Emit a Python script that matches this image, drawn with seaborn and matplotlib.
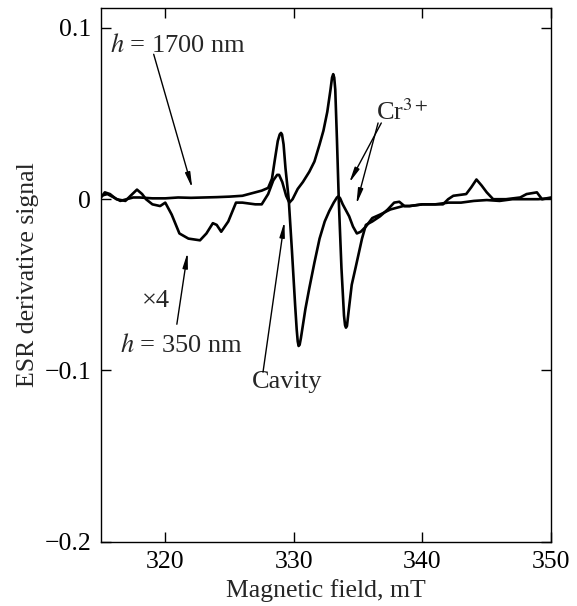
import matplotlib
matplotlib.use("Agg")
import matplotlib.pyplot as plt
import seaborn as sns
import pandas as pd

# h = 1700 nm curve
x_1700 = [315, 315.5, 316, 316.5, 317, 317.5, 318, 319, 320, 321, 322, 323, 324, 325, 326,
          326.5, 327, 327.5, 328, 328.3, 328.5, 328.75, 328.9, 329.0, 329.08, 329.2, 329.35,
          329.6, 329.85, 330.1, 330.22, 330.3, 330.37, 330.45, 330.55, 330.9, 331.2, 331.6,
          332.0, 332.4, 332.75, 333.1, 333.35, 333.47, 333.6, 333.8, 334.3, 334.6, 334.9, 335.2,
          335.6, 336.1, 336.7, 337.5, 338.5, 339.0, 340, 341, 342, 343, 344, 345, 346, 347, 348,
          349, 350]
y_1700 = [0.002, 0.003, 0.001, -0.001, 0.0, 0.001, 0.001, 0.0005, 0.0005, 0.001, 0.0008, 0.001,
          0.0012, 0.0015, 0.002, 0.003, 0.004, 0.005, 0.0066, 0.012, 0.022, 0.034, 0.0378,
          0.0387, 0.0378, 0.032, 0.018, 0.0, -0.03, -0.062, -0.076, -0.083, -0.0857, -0.085,
          -0.081, -0.064, -0.052, -0.037, -0.023, -0.013, -0.007, -0.002, 0.001, 0.0017, 0.0005,
          -0.003, -0.010, -0.016, -0.020, -0.019, -0.016, -0.011, -0.009, -0.006, -0.004, -0.004,
          -0.003, -0.003, -0.002, -0.002, -0.001, -0.0005, -0.001, 0.0, 0.0, 0.0, 0.0005]

# h = 350 nm curve (x4)
x_350 = [315, 315.3, 315.7, 316.2, 316.9, 317.3, 317.8, 318.2, 318.5, 319.0, 319.6, 320.0, 320.5,
         321.1, 321.8, 322.7, 323.2, 323.7, 324.0, 324.35, 324.9, 325.5, 326.0, 327.0, 327.5,
         328.0, 328.4, 328.7, 328.85, 329.1, 329.4, 329.65, 329.9, 330.3, 330.7, 331.2, 331.6,
         332.0, 332.3, 332.6, 332.85, 332.97, 333.06, 333.14, 333.22, 333.35, 333.5, 333.7,
         333.9, 333.98, 334.05, 334.13, 334.25, 334.5, 334.8, 335.3, 335.6, 336.1, 336.7, 337.3,
         337.8, 338.2, 338.6, 339.0, 340, 341, 341.6, 342.0, 342.4, 343.4, 343.8, 344.2, 344.6,
         345.0, 345.5, 346.5, 347.6, 348.1, 348.9, 349.3, 350]
y_350 = [0.001, 0.004, 0.003, 0.0, -0.001, 0.002, 0.0056, 0.003, 0.0, -0.003, -0.004, -0.002,
         -0.009, -0.020, -0.023, -0.024, -0.020, -0.014, -0.015, -0.019, -0.013, -0.002, -0.002,
         -0.003, -0.003, 0.003, 0.011, 0.0142, 0.0142, 0.010, 0.002, -0.002, 0.0, 0.006, 0.010,
         0.016, 0.022, 0.032, 0.040, 0.051, 0.064, 0.071, 0.073, 0.071, 0.064, 0.035, -0.002,
         -0.040, -0.068, -0.0735, -0.075, -0.074, -0.066, -0.050, -0.040, -0.023, -0.015, -0.013,
         -0.010, -0.006, -0.002, -0.0015, -0.004, -0.004, -0.003, -0.003, -0.003, 0.0, 0.002,
         0.003, 0.007, 0.0115, 0.008, 0.004, 0.0, 0.0, 0.001, 0.003, 0.004, 0.0, 0.001]

x_ticks = [320, 330, 340, 350]
y_ticks = [-0.2, -0.1, 0.0, 0.1]
y_tick_labels = ["\u22120.2", "\u22120.1", "0", "0.1"]

sns.set_style("ticks")
plt.rcParams["font.family"] = ["Liberation Serif", "DejaVu Serif"]
plt.rcParams["mathtext.fontset"] = "stix"

fig = plt.figure(figsize=(5.77, 6.06), dpi=100)
ax = fig.add_axes([0.175, 0.106, 0.780, 0.881])

df_a = pd.DataFrame({"x": x_1700, "y": y_1700})
df_b = pd.DataFrame({"x": x_350, "y": y_350})
sns.lineplot(data=df_a, x="x", y="y", ax=ax, color="black", lw=1.9, sort=False,
             solid_joinstyle="round")
sns.lineplot(data=df_b, x="x", y="y", ax=ax, color="black", lw=1.9, sort=False,
             solid_joinstyle="round")

ax.set_xlim(315, 350)
ax.set_ylim(-0.2, 0.1117)
ax.set_xticks(x_ticks)
ax.set_yticks(y_ticks)
ax.set_yticklabels(y_tick_labels)
ax.tick_params(direction="in", length=7, width=1, top=True, right=True,
               labelsize=18.5, pad=7, colors="black")
for s in ax.spines.values():
    s.set_linewidth(1.0)
    s.set_color("black")
ax.set_xlabel("Magnetic field, mT", fontsize=18.5, labelpad=4)
ax.set_ylabel("ESR derivative signal", fontsize=18.5, labelpad=4)

ap = dict(arrowstyle="-|>,head_width=0.15,head_length=0.9", lw=1.0, color="black",
          shrinkA=0, shrinkB=0)
fs = 19
ax.text(315.7, 0.090, r"$h$ = 1700 nm", fontsize=fs, ha="left", va="center")
ax.annotate("", xy=(322.1, 0.0064), xytext=(319.1, 0.0846), arrowprops=ap)
ax.text(338.4, 0.051, r"Cr$^{3+}$", fontsize=fs, ha="center", va="center")
ax.annotate("", xy=(334.3, 0.0095), xytext=(336.8, 0.0445), arrowprops=ap)
ax.annotate("", xy=(334.86, -0.003), xytext=(336.55, 0.0445), arrowprops=ap)
ax.text(319.3, -0.0595, "\u00d74", fontsize=fs, ha="center", va="center")
ax.text(321.25, -0.0857, r"$h$ = 350 nm", fontsize=fs, ha="center", va="center")
ax.annotate("", xy=(321.74, -0.031), xytext=(320.9, -0.073), arrowprops=ap)
ax.text(329.5, -0.107, "Cavity", fontsize=fs, ha="center", va="center")
ax.annotate("", xy=(329.27, -0.013), xytext=(327.6, -0.101), arrowprops=ap)

fig.savefig("out.png", dpi=100)
